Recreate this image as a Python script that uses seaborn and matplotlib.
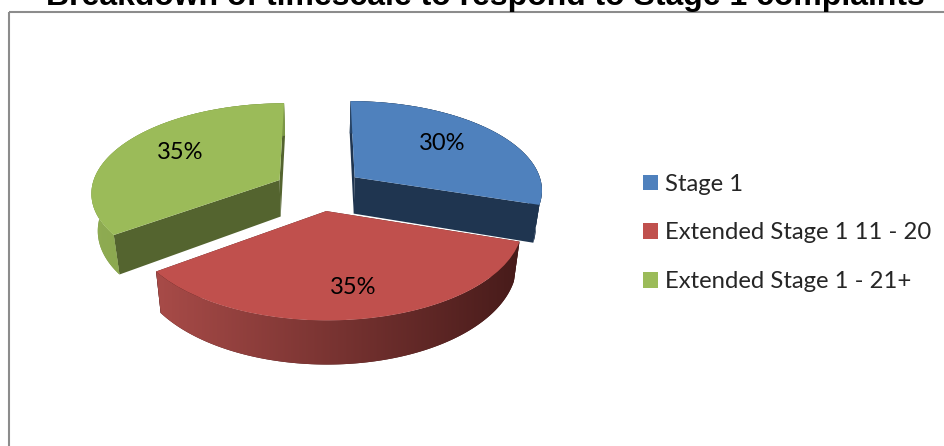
import numpy as np
import matplotlib
matplotlib.use("Agg")
import matplotlib.pyplot as plt
from matplotlib.colors import LinearSegmentedColormap
from matplotlib.patches import Polygon, Rectangle
from matplotlib.transforms import Transform
import seaborn as sns

title = "Breakdown of timescale to respond to Stage 1 complaints"
categories = ["Stage 1", "Extended Stage 1 11 - 20", "Extended Stage 1 - 21+"]
shares = [30, 35, 35]

sns.set_theme(style="white")
plt.rcParams["font.family"] = ["Lato", "DejaVu Sans"]

top_colors = sns.color_palette(["#4f81bd", "#c0504d", "#9bbb59"])
cut_colors = ["#1f3550", "#4a1d1c", "#54642f"]
wall_ramps = [("#2a4668", "#1f3550"), ("#a84b48", "#471b1a"), ("#8fac52", "#7c9746")]
label_radius = [0.62, 0.77, 0.63]
draw_order = [2, 0, 1]

# Perspective camera: pie plane (unit radius) to pixel coordinates.
CX, CY, SX, SY, PERSP = 319.0, 189.5, 188.5, 89.0, 0.13
DEPTH, SHRINK = 37.0, 0.972
EXPLODE = 0.238


def project(xy):
    xy = np.atleast_2d(xy)
    w = 1 + PERSP * xy[:, 1]
    return np.column_stack([CX + SX * xy[:, 0] / w, CY - SY * xy[:, 1] / w])


def lower(xy):
    """Pixel position of plane points on the underside of the disc."""
    w = 1 + PERSP * np.atleast_2d(xy)[:, 1]
    p = project(xy)
    return np.column_stack([CX + (p[:, 0] - CX) * SHRINK, p[:, 1] + DEPTH / w])


class PieProjection(Transform):
    input_dims = output_dims = 2
    has_inverted = False
    is_affine = False

    def transform_non_affine(self, values):
        return project(values)


fig = plt.figure(figsize=(9.45, 4.46), dpi=100, facecolor="white")
ax = fig.add_axes([0, 0, 1, 1])

wedges, _ = ax.pie(shares, explode=[EXPLODE] * len(shares), startangle=90,
                   counterclock=False, radius=1, colors=top_colors,
                   wedgeprops=dict(linewidth=0))
projection = PieProjection()

for z, i in enumerate(draw_order):
    wedge = wedges[i]
    base = 10 + z * 10
    center = np.array(wedge.center)
    t1, t2 = np.radians(wedge.theta1), np.radians(wedge.theta2)
    theta = np.linspace(t1, t2, 200)
    rim = center + np.column_stack([np.cos(theta), np.sin(theta)])

    # Radial cut faces
    for end in (rim[0], rim[-1]):
        pts = np.vstack([center, end])
        quad = np.vstack([project(pts), lower(pts)[::-1]])
        ax.add_patch(Polygon(quad, closed=True, facecolor=cut_colors[i],
                             edgecolor="none", zorder=base + 1))

    # Outer rim wall, shaded from left to right
    wall = np.vstack([project(rim), lower(rim)[::-1]])
    clip = Polygon(wall, closed=True, facecolor=wall_ramps[i][1],
                   edgecolor="none", zorder=base + 2)
    ax.add_patch(clip)
    ramp = LinearSegmentedColormap.from_list("ramp", wall_ramps[i])
    image = ax.imshow(np.linspace(0, 1, 256)[None, :], cmap=ramp, aspect="auto",
                      extent=(wall[:, 0].min(), wall[:, 0].max(),
                              wall[:, 1].max(), wall[:, 1].min()),
                      zorder=base + 3, interpolation="bilinear")
    image.set_clip_path(clip)

    # Top face
    wedge.set_transform(projection + ax.transData)
    wedge.set_zorder(base + 4)

    # Percentage label
    mid = (t1 + t2) / 2
    spot = center + label_radius[i] * np.array([np.cos(mid), np.sin(mid)])
    px = project(spot)[0]
    ax.text(px[0], px[1] - 3.5, f"{shares[i]}%", ha="center", va="center",
            fontsize=17, color="black", zorder=100)

ax.set_aspect("auto")
ax.set_xlim(0, 945)
ax.set_ylim(446, 0)
ax.set_axis_off()

# Chart border, running off the right and bottom of the canvas
ax.add_patch(Rectangle((8.5, 11.5), 960, 460, facecolor="none",
                       edgecolor="#8c8c8c", linewidth=1.5, zorder=1))

ax.set_title(title, x=485 / 945, y=1 - 5.5 / 446, fontsize=23, fontweight="bold",
             family=["Liberation Sans"], color="black", pad=0)

handles = [plt.Rectangle((0, 0), 1, 1, facecolor=c, edgecolor="none") for c in top_colors]
ax.legend(handles, categories, loc="center left",
          bbox_to_anchor=(643 / 945, 1 - 233 / 446), frameon=False, fontsize=17.2,
          handlelength=0.63, handleheight=0.63, handletextpad=0.3,
          labelspacing=1.16, borderaxespad=0, borderpad=0)

fig.savefig("out.png", dpi=100)
